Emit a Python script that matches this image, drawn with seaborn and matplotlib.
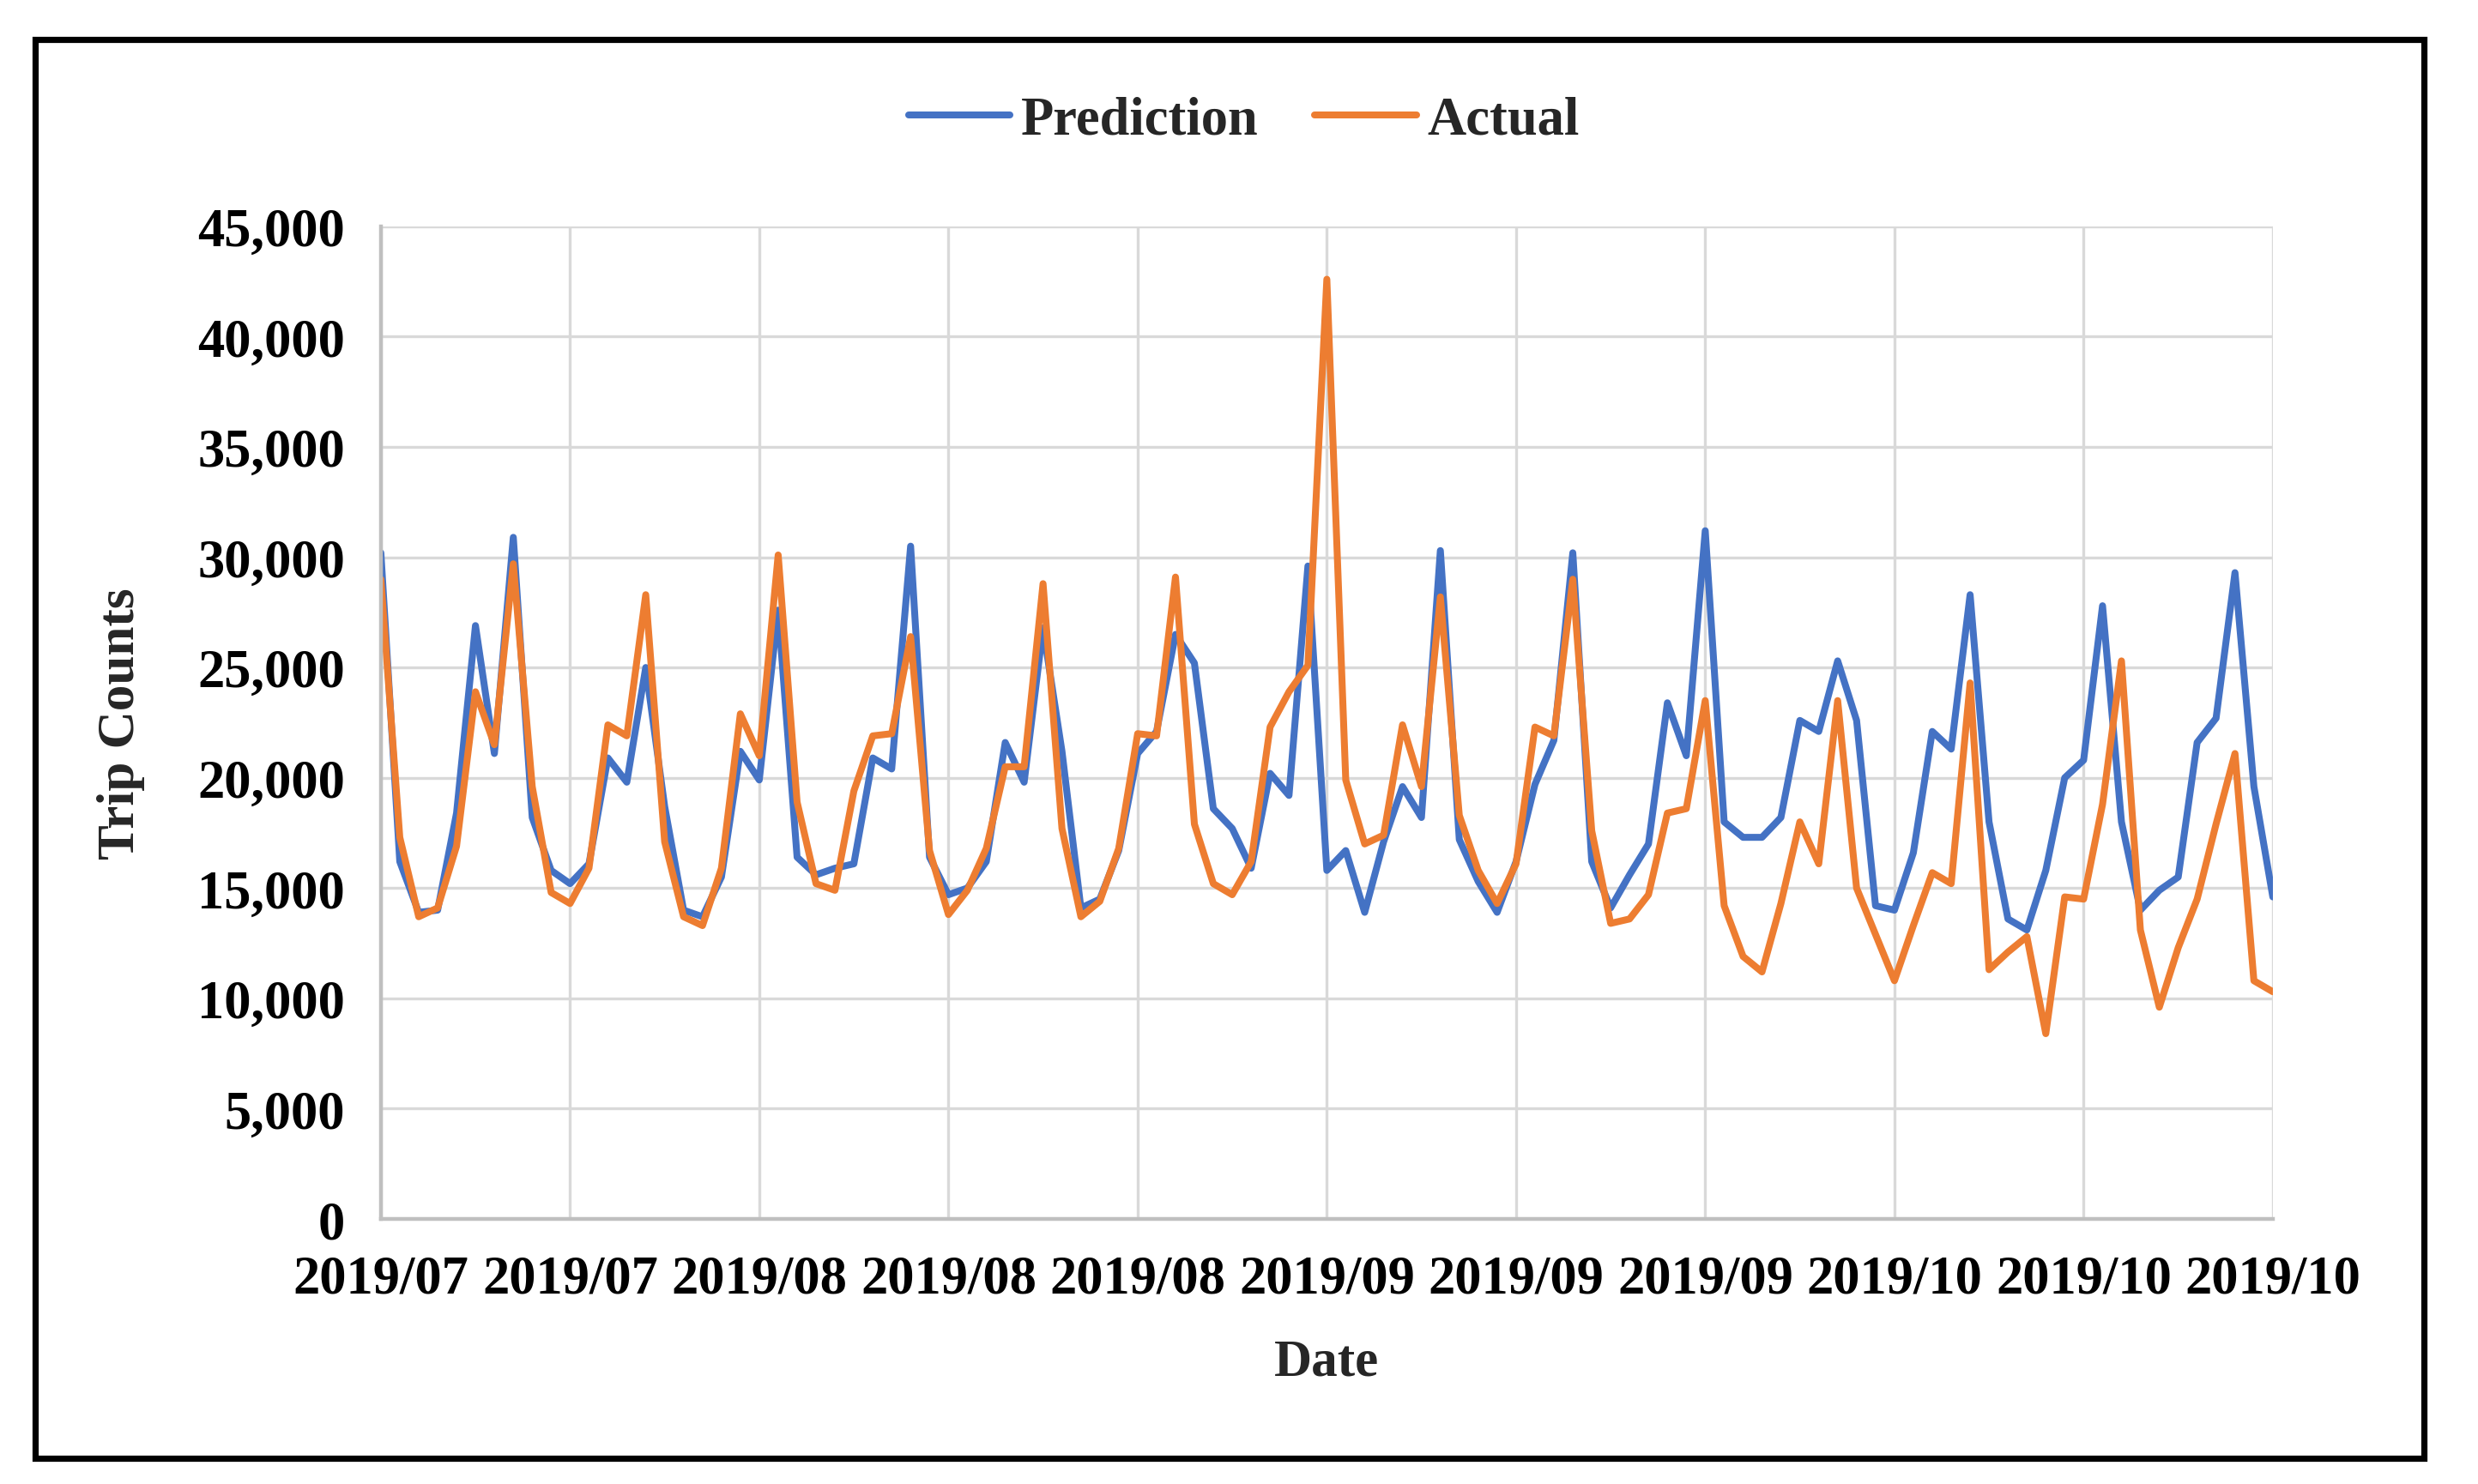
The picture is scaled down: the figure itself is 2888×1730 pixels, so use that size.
import matplotlib
matplotlib.use('Agg')
import matplotlib.pyplot as plt
from matplotlib.patches import Rectangle
from matplotlib.ticker import FuncFormatter
import pandas as pd
import seaborn as sns

# Daily trip counts (101 days)
prediction = [30200, 16200, 13900, 14000, 18400, 26900, 21100, 30900, 18200, 15800,
              15200, 16100, 20900, 19800, 25000, 18700, 14000, 13700, 15500, 21200,
              19900, 27600, 16400, 15600, 15900, 16100, 20900, 20400, 30500, 16400,
              14700, 15000, 16200, 21600, 19800, 26800, 21200, 14100, 14500, 16700,
              21100, 22100, 26500, 25200, 18600, 17700, 15900, 20200, 19200, 29600,
              15800, 16700, 13900, 17100, 19600, 18200, 30300, 17200, 15300, 13900,
              16200, 19700, 21700, 30200, 16200, 14100, 15600, 17000, 23400, 21000,
              31200, 18000, 17300, 17300, 18200, 22600, 22100, 25300, 22600, 14200,
              14000, 16600, 22100, 21300, 28300, 18000, 13600, 13100, 15800, 20000,
              20800, 27800, 18000, 14000, 14900, 15500, 21600, 22700, 29300, 19600,
              14600]
actual = [29000, 17300, 13700, 14100, 16900, 23900, 21500, 29700, 19600, 14800,
          14300, 15900, 22400, 21900, 28300, 17100, 13700, 13300, 15900, 22900,
          21000, 30100, 18900, 15200, 14900, 19400, 21900, 22000, 26400, 16700,
          13800, 14900, 16800, 20500, 20500, 28800, 17700, 13700, 14400, 16800,
          22000, 21900, 29100, 17900, 15200, 14700, 16200, 22300, 23900, 25100,
          42600, 19900, 17000, 17400, 22400, 19600, 28200, 18300, 15800, 14300,
          16100, 22300, 21900, 29000, 17600, 13400, 13600, 14700, 18400, 18600,
          23500, 14200, 11900, 11200, 14300, 18000, 16100, 23500, 15000, 12900,
          10800, 13300, 15700, 15200, 24300, 11300, 12100, 12800, 8400, 14600,
          14500, 18800, 25300, 13100, 9600, 12300, 14500, 17900, 21100, 10800,
          10300]
tick_labels = ["2019/07", "2019/07", "2019/08", "2019/08", "2019/08", "2019/09",
               "2019/09", "2019/09", "2019/10", "2019/10", "2019/10"]
series_names = ["Prediction", "Actual"]
colors = {"Prediction": "#4472C4", "Actual": "#ED7D31"}

n = len(prediction)
df = pd.DataFrame({
    "day":    list(range(n)) * 2,
    "count":  prediction + actual,
    "series": ["Prediction"] * n + ["Actual"] * n,
})

sns.set_theme(style="whitegrid")
plt.rcParams['font.family'] = ['Liberation Serif', 'DejaVu Serif']
plt.rcParams['font.weight'] = 'bold'
plt.rcParams['axes.labelweight'] = 'bold'

fig = plt.figure(figsize=(14.44, 8.655), dpi=200)
ax = fig.add_axes([0.1537, 0.1785, 0.9172 - 0.1537, 0.847 - 0.1785])

sns.lineplot(data=df, x="day", y="count", hue="series", hue_order=series_names,
             palette=colors, linewidth=2.9, ax=ax)

ax.set_xlim(0, n - 1)
ax.set_ylim(0, 45000)
ax.set_xticks(range(0, n, 10))
ax.set_xticklabels(tick_labels)
ax.set_yticks(range(0, 45001, 5000))
ax.yaxis.set_major_formatter(FuncFormatter(lambda v, p: f"{int(v):,}"))
ax.tick_params(axis='both', length=0, labelsize=22.5, colors='black')
ax.tick_params(axis='x', pad=15)
ax.tick_params(axis='y', pad=15)
for lab in ax.get_xticklabels() + ax.get_yticklabels():
    lab.set_fontweight('bold')

ax.grid(True, color='#D9D9D9', linewidth=1.2)
for side in ['top', 'right']:
    ax.spines[side].set_visible(False)
for side in ['left', 'bottom']:
    ax.spines[side].set_color('#BFBFBF')
    ax.spines[side].set_linewidth(1.6)

ax.set_xlabel("Date", fontsize=22, fontweight='bold', labelpad=14)
ax.set_ylabel("Trip Counts", fontsize=22, fontweight='bold', labelpad=22)

handles, labels = ax.get_legend_handles_labels()
for h in handles:
    h.set_linewidth(2.9)
ax.legend(handles, labels, loc='center', bbox_to_anchor=(0.502, 0.918),
          bbox_transform=fig.transFigure, ncol=2, frameon=False,
          prop={'size': 22.5, 'weight': 'bold'}, handlelength=1.9,
          handletextpad=0.2, columnspacing=1.05)

# black frame round the whole chart
fig.patches.append(Rectangle((0.0142, 0.0175), 0.964, 0.9555, transform=fig.transFigure,
                             fill=False, edgecolor='black', linewidth=2.6))

fig.savefig("out.png", dpi=200)
